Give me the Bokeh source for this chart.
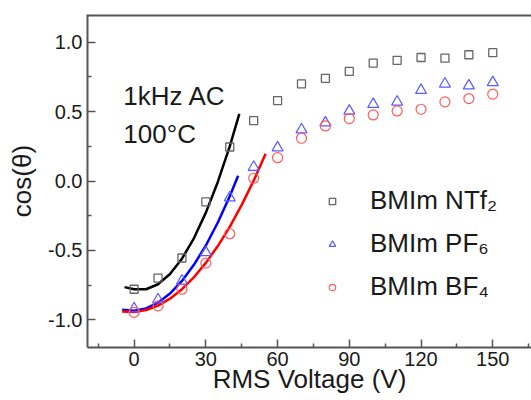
from bokeh.plotting import figure
from bokeh.models import (Range1d, FixedTicker, Legend, LegendItem, Label, Span)
from bokeh.embed import file_html
from bokeh.resources import INLINE

# ---- data ----
voltage = [0, 10, 20, 30, 40, 50, 60, 70, 80, 90, 100, 110, 120, 130, 140, 150]
ntf2 = [-0.78, -0.70, -0.555, -0.15, 0.245, 0.435, 0.58, 0.70, 0.74, 0.79, 0.85, 0.87, 0.89, 0.885, 0.91, 0.925]
pf6 = [-0.92, -0.855, -0.72, -0.515, -0.12, 0.10, 0.24, 0.37, 0.42, 0.505, 0.553, 0.57, 0.654, 0.70, 0.687, 0.71]
bf4 = [-0.947, -0.90, -0.78, -0.592, -0.38, 0.02, 0.168, 0.308, 0.397, 0.45, 0.476, 0.505, 0.517, 0.57, 0.594, 0.626]

fit_ntf2_v = [-4, 0, 5, 10, 15, 20, 25, 30, 35, 40, 44]
fit_ntf2 = [-0.765, -0.78, -0.78, -0.744, -0.67, -0.56, -0.413, -0.228, -0.007, 0.25, 0.484]
fit_pf6_v = [-5, 0, 5, 10, 15, 20, 25, 30, 35, 40, 43.5]
fit_pf6 = [-0.927, -0.935, -0.918, -0.877, -0.811, -0.72, -0.604, -0.465, -0.299, -0.11, 0.038]
fit_bf4_v = [-5, 0, 5, 10, 15, 20, 25, 30, 35, 40, 45, 50, 55]
fit_bf4 = [-0.94, -0.945, -0.93, -0.898, -0.848, -0.78, -0.694, -0.59, -0.469, -0.33, -0.172, 0.0025, 0.197]

x_ticks = [0, 30, 60, 90, 120, 150]
x_minor = [-15, 15, 45, 75, 105, 135, 165]
y_ticks = [-1.0, -0.5, 0.0, 0.5, 1.0]
y_tick_labels = ["-1.0", "-0.5", "0.0", "0.5", "1.0"]
y_minor = [-0.75, -0.25, 0.25, 0.75]
y_top = 1.2

series_names = ["BMIm NTf\u2082", "BMIm PF\u2086", "BMIm BF\u2084"]
x_title = "RMS Voltage (V)"
y_title = "cos(\u03b8)"
annot_1 = "1kHz AC"
annot_2 = "100\u00b0C"

FONT = "Liberation Sans"
AXIS_COL = "#555555"
TXT = "#1a1a1a"

p = figure(width=531, height=400, output_backend="svg", toolbar_location=None,
           x_range=Range1d(-19.5, 166.2), y_range=Range1d(-1.2, y_top),
           min_border_left=87, min_border_right=0, min_border_top=14, min_border_bottom=53,
           x_axis_label=x_title, y_axis_label=y_title)
p.outline_line_color = None
p.xgrid.visible = False
p.ygrid.visible = False
p.background_fill_color = "white"
p.border_fill_color = "white"

p.xaxis.ticker = FixedTicker(ticks=x_ticks, minor_ticks=x_minor)
p.yaxis.ticker = FixedTicker(ticks=y_ticks, minor_ticks=y_minor)
p.yaxis.major_label_overrides = {t: s for t, s in zip(y_ticks, y_tick_labels)}

for ax in (p.xaxis[0], p.yaxis[0]):
    ax.axis_line_color = AXIS_COL
    ax.axis_line_width = 2
    ax.major_tick_line_color = AXIS_COL
    ax.minor_tick_line_color = AXIS_COL
    ax.major_tick_line_width = 1.5
    ax.minor_tick_line_width = 1.5
    ax.major_tick_in = 8
    ax.major_tick_out = 0
    ax.minor_tick_in = 4
    ax.minor_tick_out = 0
    ax.major_label_text_font = FONT
    ax.major_label_text_font_size = "20px"
    ax.major_label_text_color = TXT
    ax.axis_label_text_font = FONT
    ax.axis_label_text_font_size = "26px"
    ax.axis_label_text_font_style = "normal"
    ax.axis_label_text_color = TXT

p.xaxis.major_label_standoff = 4
p.xaxis.axis_label_standoff = -5
p.yaxis.major_label_standoff = 5
p.yaxis.axis_label_standoff = 8

# top frame line
p.add_layout(Span(location=y_top, dimension="width", line_color=AXIS_COL, line_width=4))

# fitted curves
p.line(fit_ntf2_v, fit_ntf2, line_color="black", line_width=2.5)
p.line(fit_pf6_v, fit_pf6, line_color="#0000ff", line_width=2.5)
p.line(fit_bf4_v, fit_bf4, line_color="#ff0000", line_width=2.5)

# measured points
r1 = p.scatter(voltage, ntf2, marker="square", size=8, fill_color=None,
               line_color="#666666", line_width=1.3)
r2 = p.scatter(voltage, pf6, marker="triangle", size=11, fill_color=None,
               line_color="#5a5aff", line_width=1.2)
r3 = p.scatter(voltage, bf4, marker="circle", size=10, fill_color=None,
               line_color="#ff5a5a", line_width=1.2)

legend = Legend(items=[LegendItem(label=series_names[0], renderers=[r1]),
                       LegendItem(label=series_names[1], renderers=[r2]),
                       LegendItem(label=series_names[2], renderers=[r3])],
                location=(237, 45), padding=0, margin=0, spacing=12,
                glyph_width=16, glyph_height=30, label_height=30, label_standoff=30,
                label_text_font=FONT, label_text_font_size="26px",
                label_text_color=TXT,
                border_line_color=None, background_fill_alpha=0)
p.add_layout(legend)

p.add_layout(Label(x=-4.5, y=0.613, text=annot_1, text_font=FONT, text_font_size="26px",
                   text_color=TXT, text_baseline="alphabetic"))
p.add_layout(Label(x=-4.5, y=0.34, text=annot_2, text_font=FONT, text_font_size="26px",
                   text_color=TXT, text_baseline="alphabetic"))

open("out.html", "w").write(file_html(p, INLINE))
